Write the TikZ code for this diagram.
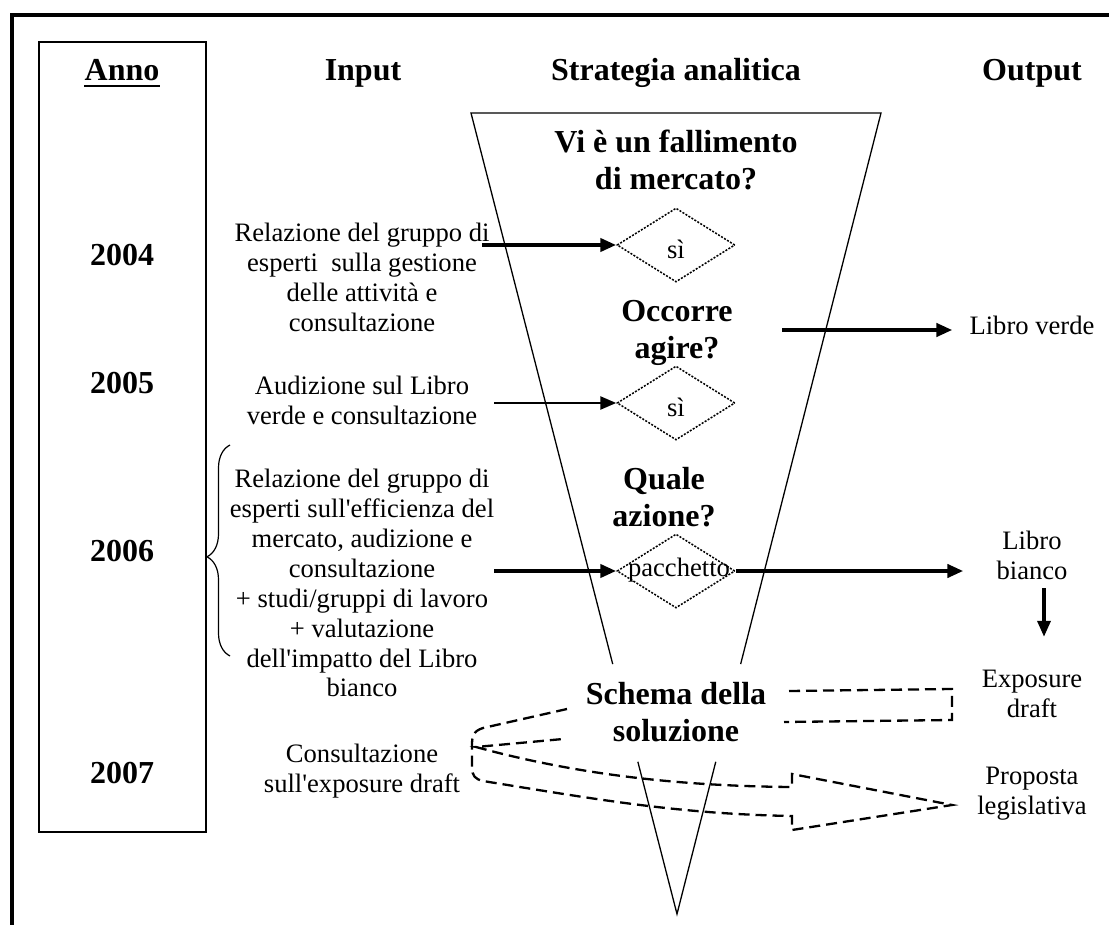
\documentclass[tikz,border=0pt]{standalone}
\usepackage{fontspec}
\setmainfont{Liberation Serif}
\usetikzlibrary{arrows.meta,calc,shapes.geometric,decorations.pathreplacing}
\newcommand{\mlines}[1]{\begin{tabular}[t]{@{}c@{}}#1\end{tabular}}
\newcommand{\ap}{\textquotesingle}
\begin{document}
\begin{tikzpicture}[x=1pt,y=-1pt,
  txt/.style={inner sep=0pt, anchor=base, font=\fontsize{26.6}{30}\selectfont},
  btxt/.style={inner sep=0pt, anchor=base, font=\fontsize{32}{37}\selectfont\bfseries},
  dia/.style={diamond, draw, line width=1.5pt, dash pattern=on 2pt off 1.5pt, minimum width=118pt, minimum height=74pt, inner sep=0pt},
  arr/.style={-{Triangle[length=16pt,width=13pt]}},
  dsh/.style={line width=2.3pt, dash pattern=on 11pt off 6pt},
  thinline/.style={line width=1.3pt}]
\useasboundingbox (0,0) rectangle (1109,925);
\begin{scope}
\clip (0,0) rectangle (1109,925);
\draw[line width=4pt] (12,15) rectangle (1200,1000);
\end{scope}

% Year column
\draw[line width=1.5pt] (39,42) rectangle (206,832);
\node[btxt] (anno) at (122,81) {Anno};
\draw[line width=2.5pt] ([yshift=-5pt]anno.base west) -- ([yshift=-5pt]anno.base east);
\node[btxt] (y4) at (122,266) {2004};
\node[btxt] (y5) at (122,394) {2005};
\node[btxt] (y6) at (122,561) {2006};
\node[btxt] (y7) at (122,783) {2007};

% headers
\node[btxt] (hin) at (363,81) {Input};
\node[btxt] (hstr) at (676,81) {Strategia analitica};
\node[btxt] (hout) at (1032,81) {Output};

% inputs
\node[txt] (in1) at (362,242) {\mlines{Relazione del gruppo di\\esperti~ sulla gestione\\delle attività e\\consultazione}};
\node[txt] (in2) at (362,395) {\mlines{Audizione sul Libro\\verde e consultazione}};
\node[txt] (in3) at (362,487) {\mlines{Relazione del gruppo di\\esperti sull\ap efficienza del\\mercato, audizione e\\consultazione\\+ studi/gruppi di lavoro\\+ valutazione\\dell\ap impatto del Libro\\bianco}};
\node[txt] (in4) at (362,762) {\mlines{Consultazione\\sull\ap exposure draft}};
\draw[line width=1.2pt, decorate, decoration={brace, amplitude=23pt, aspect=0.47}] (230,656) -- (230,445);

% funnel
\coordinate (TL) at (471,113);
\coordinate (TR) at (881,113);
\coordinate (T) at (677,914);
\draw[thinline] ($(TL)!0.688!(T)$) -- (TL) -- (TR) -- ($(TR)!0.688!(T)$);
\draw[thinline] ($(TL)!0.810!(T)$) -- (T) -- ($(TR)!0.810!(T)$);

\node[btxt] (q1) at (676,153) {\mlines{Vi è un fallimento\\di mercato?}};
\node[btxt] (q2) at (677,322) {\mlines{Occorre\\agire?}};
\node[btxt] (q3) at (664,489) {\mlines{Quale\\azione?}};
\node[btxt] (q4) at (676,704) {\mlines{Schema della\\soluzione}};

\node[dia] (d1) at (676,245) {};
\node[txt, anchor=center] (d1t) at (676,249) {sì};
\node[dia] (d2) at (676,403) {};
\node[txt, anchor=center] (d2t) at (676,407) {sì};
\node[dia] (d3) at (676,571) {};
\node[txt, anchor=center] (d3t) at (679,570) {pacchetto};

% outputs
\node[txt] (lv) at (1032,335) {Libro verde};
\node[txt] (lb) at (1032,549) {\mlines{Libro\\bianco}};
\node[txt] (ex) at (1032,687) {\mlines{Exposure\\draft}};
\node[txt] (pl) at (1032,784) {\mlines{Proposta\\legislativa}};

% arrows
\coordinate (a1s) at (482,245);
\coordinate (a2s) at (494,403);
\coordinate (a3s) at (494,571);
\coordinate (lvs) at (782,330);
\draw[arr, line width=4pt] (a1s) -- (d1.west);
\draw[arr, line width=2.5pt] (a2s) -- (d2.west);
\draw[arr, line width=4pt] (a3s) -- (d3.west);
\draw[arr, line width=4pt, shorten >=33pt] (d3.east) -- (d3.east -| lb.west);
\draw[arr, line width=4pt, shorten >=17pt] (lvs) -- (lvs -| lv.west);
\draw[arr, line width=3.5pt, shorten >=29pt] ([xshift=12pt]lb.south) -- ([xshift=12pt]lb.south |- ex.north);

% dashed curved block arrow
\draw[dsh] (789,691) -- (952,689) -- (952,720) -- (784,722);
\draw[dsh] (567,709) -- (483,728) .. controls (473,731) and (472,737) .. (472,745) -- (472,767)
  .. controls (472,776) and (475,779) .. (483,781)
  .. controls (600,800) and (680,814) .. (792,816) -- (792,830) -- (952,805) -- (792,774) -- (792,787)
  .. controls (660,786) and (560,770) .. (476,747) -- (563,739);
\end{tikzpicture}
\end{document}
